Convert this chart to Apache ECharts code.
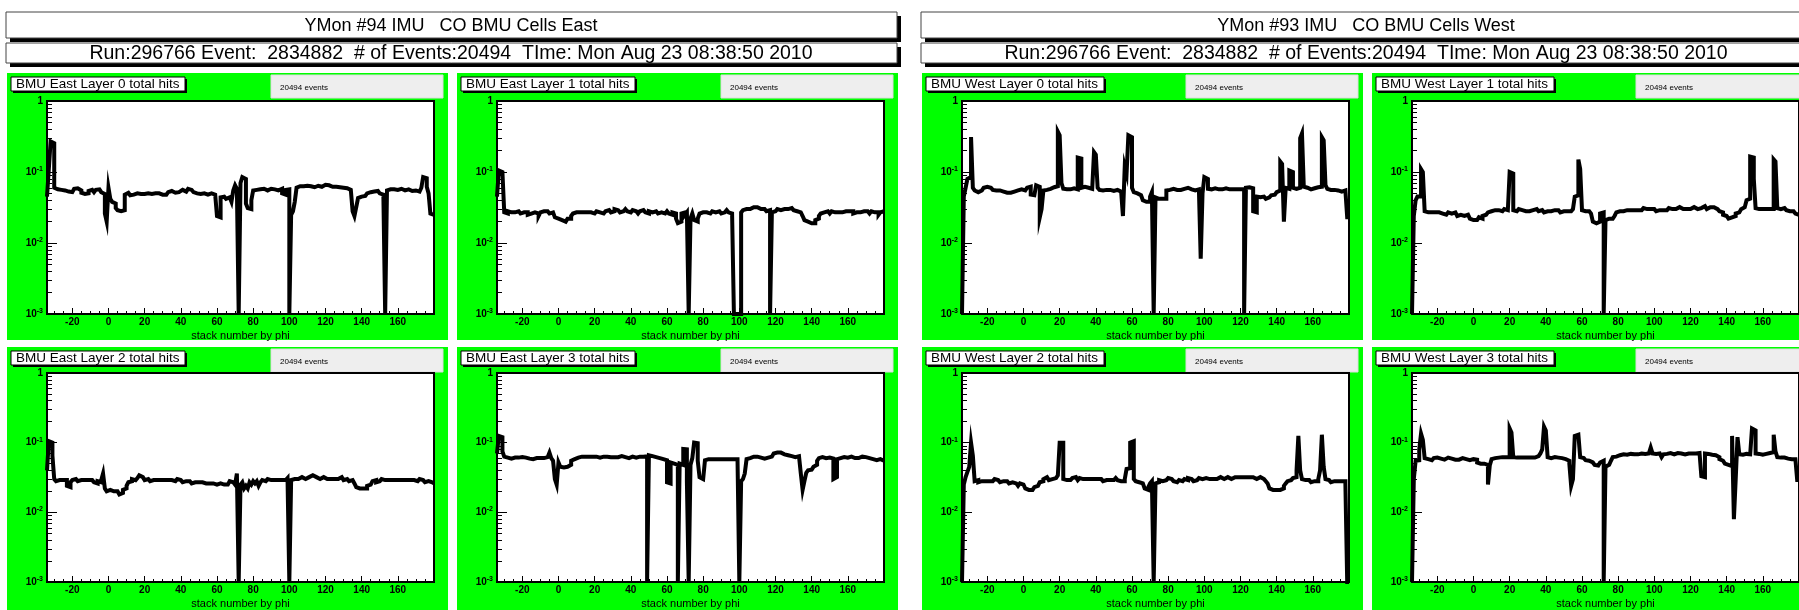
<!DOCTYPE html>
<html>
<head>
<meta charset="utf-8">
<script src="https://cdn.jsdelivr.net/npm/echarts@6/dist/echarts.min.js"></script>
<style>
  html, body { margin: 0; padding: 0; background: #ffffff; }
  #c { width: 1799px; height: 610px; }
</style>
</head>
<body>
<div id="c"></div>
<script>
// Per-stack hit fractions, stored in units of 1e-3 (per mille of events).
// One bin per stack, bins are 1 wide and the first bin starts at BIN_START.
const BIN_START = -34;

const eastL0 = [
  45,110,270,255,60,57,55,56,54,55,
  56,53,51,52,55,58,59,56,55,51,
  49,48,50,54,56,54,52,56,57,54,
  52,49,26,20,60,42,38,36,31,29,
  28,27,29,48,51,49,47,48,49,50,
  48,49,50,49,48,50,51,49,48,50,
  51,50,49,48,47,48,50,52,54,53,
  51,50,52,55,56,54,53,55,58,56,
  54,52,50,51,49,48,50,47,48,49,
  50,47,48,46,24,23,44,45,43,42,
  44,46,38,55,65,58,0,70,85,80,
  36,31,30,40,55,56,58,57,56,58,
  57,55,56,58,59,57,56,55,57,58,
  50,48,56,57,0,25,28,38,60,63,
  64,63,62,64,65,63,62,61,63,64,
  63,62,64,66,67,65,64,62,61,62,
  60,61,59,60,58,59,57,56,55,28,
  24,32,43,45,44,46,48,50,52,51,
  53,52,54,53,50,48,45,0,55,57,
  56,57,55,56,57,58,56,55,56,57,
  55,54,56,55,54,53,52,60,85,82,
  62,50,26,25
];

const eastL1 = [
  45,105,100,95,27,26,28,27,28,27,
  26,28,27,26,27,28,27,25,26,27,
  27,28,26,24,27,28,27,28,27,26,
  27,28,23,22,21,21,20,20,21,22,
  22,24,26,27,28,27,28,27,26,27,
  28,27,27,26,27,28,27,27,26,27,
  28,29,28,27,28,30,29,28,27,28,
  29,30,28,27,28,29,28,27,26,28,
  29,28,27,26,28,27,26,28,27,26,
  27,28,26,27,28,26,25,27,26,22,
  19,20,26,27,25,27,0,22,26,21,
  20,22,26,27,26,27,28,26,27,28,
  27,26,28,27,26,27,28,29,27,26,
  27,0,0,0,0,27,29,30,31,30,
  31,32,33,32,31,30,31,30,29,28,
  29,0,27,28,29,30,29,28,30,31,
  30,29,31,30,29,28,29,27,26,24,
  21,20,19,19,18,19,21,22,24,26,
  27,26,28,27,26,28,27,26,27,28,
  27,26,28,27,28,29,28,26,27,28,
  27,26,28,27,28,27,26,28,27,26,
  27,25,27,28
];

const eastL2 = [
  40,105,100,65,30,28,29,30,29,28,
  29,24,23,27,29,30,29,28,29,30,
  29,30,29,28,29,28,27,26,28,27,
  29,36,22,20,21,22,20,19,20,19,
  18,19,21,22,24,27,28,30,29,30,
  31,34,32,30,29,30,29,28,29,30,
  29,28,29,30,29,28,29,30,29,29,
  28,29,30,29,28,27,28,29,28,27,
  26,27,28,27,26,27,28,26,25,26,
  25,26,27,25,24,26,27,25,24,25,
  26,28,27,26,25,36,0,25,27,22,
  24,22,27,25,28,26,28,24,27,29,
  28,29,30,29,28,29,30,29,28,29,
  30,29,30,31,0,29,30,31,30,31,
  32,31,30,31,32,33,34,33,32,31,
  30,31,32,31,30,29,30,31,30,29,
  30,31,32,30,29,30,29,28,29,30,
  26,23,22,21,22,21,22,24,25,26,
  28,29,27,28,29,30,29,28,29,28,
  29,28,29,30,29,28,29,30,29,28,
  29,28,29,30,28,29,30,29,28,27,
  28,29,27,26
];

const eastL3 = [
  70,125,120,75,63,61,60,59,60,61,
  62,61,60,62,63,61,60,59,57,58,
  59,60,61,60,59,60,61,62,60,72,
  60,55,30,25,52,45,44,44,45,46,
  48,55,58,60,61,62,63,64,63,62,
  63,64,63,62,63,62,61,62,63,62,
  63,64,62,63,62,61,62,63,64,63,
  62,61,60,62,63,62,61,62,63,62,
  63,62,64,0,66,64,63,62,61,60,
  59,58,57,56,27,26,52,50,49,48,
  0,50,48,81,80,28,0,48,60,100,
  98,55,32,30,31,56,58,57,58,59,
  58,57,58,59,58,57,58,59,58,57,
  58,59,58,57,0,28,30,36,58,60,
  62,63,64,63,62,61,60,59,60,61,
  62,63,66,70,72,74,72,70,68,67,
  66,65,64,63,62,63,64,62,36,21,
  28,37,40,41,42,45,48,55,60,62,
  61,60,62,61,60,59,30,32,58,60,
  61,62,60,61,62,63,61,60,59,60,
  61,63,64,62,61,60,59,58,57,56,
  57,58,56,55
];

const westL0 = [
  0,45,60,80,85,310,60,55,52,53,
  55,57,60,62,61,60,58,56,55,54,
  55,54,53,52,51,50,51,52,53,54,
  55,56,57,58,55,57,60,62,48,47,
  50,65,62,23,30,55,56,57,58,60,
  61,62,63,370,330,70,58,57,56,57,
  58,59,56,57,160,155,60,62,61,60,
  59,58,57,190,175,60,56,55,57,56,
  55,56,55,54,55,56,54,53,50,24,
  120,95,330,310,60,52,50,48,47,46,
  40,38,37,38,45,52,0,44,42,41,
  42,43,42,55,56,57,58,57,56,55,
  56,57,58,59,60,58,57,56,55,56,
  57,56,6,50,85,80,58,57,58,59,
  58,57,56,57,58,59,58,57,56,57,
  58,57,56,57,58,57,0,60,61,60,
  59,28,27,45,44,46,45,43,42,44,
  45,47,48,50,52,55,140,130,20,60,
  58,105,100,60,58,57,60,300,350,62,
  60,58,57,58,59,60,61,60,62,310,
  280,65,58,56,55,56,57,55,54,53,
  54,55,56,23
];

const westL1 = [
  0,24,40,45,45,110,100,28,27,26,
  27,28,27,26,27,28,26,27,25,26,
  27,26,25,27,26,24,25,26,24,23,
  25,24,22,21,22,21,22,23,22,24,
  25,26,27,28,27,29,30,29,30,28,
  29,30,29,28,100,95,29,28,29,30,
  29,30,28,29,28,27,29,28,30,29,
  28,29,28,27,28,29,28,27,29,28,
  29,28,27,28,29,28,27,28,29,30,
  45,47,150,110,29,28,27,28,27,26,
  20,19,19,20,26,27,0,21,22,21,
  22,21,24,27,28,29,28,27,29,28,
  29,28,29,30,29,28,29,30,31,30,
  29,30,31,30,29,28,29,30,29,28,
  29,30,31,30,29,30,31,32,31,30,
  31,30,29,30,31,32,31,30,32,31,
  32,33,31,30,32,33,32,31,30,29,
  28,27,25,24,23,22,23,22,24,26,
  27,28,30,32,32,40,42,165,160,80,
  31,30,31,30,29,30,31,30,29,30,
  150,140,31,30,29,31,30,29,28,29,
  28,27,26,25
];

const westL2 = [
  0,25,32,38,45,100,65,28,29,27,
  28,27,28,29,28,27,28,29,30,29,
  28,27,28,29,28,27,26,27,28,26,
  25,24,26,25,24,22,21,20,21,22,
  23,24,25,27,28,30,32,31,29,30,
  32,31,33,34,100,100,30,29,28,29,
  30,31,32,30,29,31,30,29,30,31,
  30,29,30,31,30,29,30,29,28,29,
  30,29,28,29,30,31,29,28,29,28,
  30,42,43,100,105,30,28,27,28,26,
  25,22,21,23,26,28,0,26,27,29,
  28,27,29,30,31,30,29,28,27,28,
  29,28,29,30,29,31,30,29,28,29,
  30,31,30,29,31,32,30,29,30,31,
  30,31,32,31,30,31,32,31,30,31,
  32,33,32,31,32,33,32,31,32,33,
  32,31,30,31,32,31,30,29,28,26,
  22,21,20,21,22,21,20,22,24,26,
  28,29,30,31,32,40,125,40,30,29,
  28,29,28,27,28,29,28,30,40,130,
  45,30,29,28,27,28,29,28,27,28,
  27,28,26,0
];

const westL3 = [
  0,30,55,56,80,135,110,60,58,57,
  56,58,60,61,60,59,58,57,60,61,
  60,59,58,57,56,57,58,60,59,58,
  57,56,55,58,60,57,52,50,49,50,
  52,48,25,47,58,60,62,61,60,62,
  63,62,61,62,160,140,62,61,60,61,
  62,61,60,61,62,61,60,61,62,64,
  66,70,80,170,150,62,60,61,62,60,
  61,62,60,59,58,57,55,50,24,30,
  125,130,128,62,60,58,56,55,54,52,
  50,48,47,50,52,55,0,45,48,50,
  55,62,63,65,66,67,68,66,67,68,
  69,70,68,67,68,69,70,71,69,68,
  70,72,85,70,69,68,70,71,62,68,
  69,70,71,69,68,70,71,72,70,69,
  68,69,70,71,70,69,70,72,71,70,
  33,32,70,69,68,67,68,66,64,62,
  58,55,52,50,48,47,46,125,8,30,
  120,68,67,68,69,70,68,67,160,150,
  70,69,68,67,68,69,70,71,72,73,
  130,75,62,61,60,61,60,59,60,58,
  59,58,57,29
];

// Axis ranges and tick labels
const X_MIN = -34, X_MAX = 180;
const Y_MIN = 1e-3, Y_MAX = 1;
const xTickLabels = [-20, 0, 20, 40, 60, 80, 100, 120, 140, 160];
const yDecadeExponents = [-3, -2, -1, 0];

// Texts
const canvases = [
  { title: 'YMon #94 IMU   CO BMU Cells East',
    panels: [['BMU East Layer 0 total hits', eastL0], ['BMU East Layer 1 total hits', eastL1],
             ['BMU East Layer 2 total hits', eastL2], ['BMU East Layer 3 total hits', eastL3]] },
  { title: 'YMon #93 IMU   CO BMU Cells West',
    panels: [['BMU West Layer 0 total hits', westL0], ['BMU West Layer 1 total hits', westL1],
             ['BMU West Layer 2 total hits', westL2], ['BMU West Layer 3 total hits', westL3]] }
];
const runInfo = 'Run:296766 Event:  2834882  # of Events:20494  TIme: Mon Aug 23 08:38:50 2010';
const statsText = '20494 events';
const xTitle = 'stack number by phi';

// ---------------------------------------------------------------------------
const FONT = '"Liberation Sans", Arial, Helvetica, sans-serif';
const GREEN = '#00ff00';

// tick positions (axis decoration)
const xMinorTicks = [];
for (let v = -30; v <= 175; v += 5) if (v % 20 !== 0) xMinorTicks.push(v);
// nudged slightly inside the axis extent so end ticks are kept
const yMajorTicks = yDecadeExponents.map(e => Math.pow(10, e) * (e === 0 ? 0.99999 : 1.00001));
const yMinorTicks = [];
yDecadeExponents.slice(0, 3).forEach(e => {
  for (let m = 2; m <= 9; m++) yMinorTicks.push(m * Math.pow(10, e));
});

function yLabel(v) {
  const e = Math.round(Math.log10(v));
  return e === 0 ? '{m|1}' : '{m|10}{e|' + e + '}';
}

// histogram outline: each bin gives a flat segment from its left to its right edge;
// empty bins sit on the axis floor
function histPoints(values) {
  const pts = [];
  values.forEach((v, i) => {
    const y = Math.max(v * 1e-3, Y_MIN);
    pts.push([BIN_START + i, y], [BIN_START + i + 1, y]);
  });
  return pts;
}

const grids = [], xAxes = [], yAxes = [], series = [], graphics = [];

canvases.forEach((cv, ci) => {
  const x0 = ci * 915;
  // canvas title and run information boxes
  [[12, 26, cv.title, 18], [43, 20, runInfo, 19.5]].forEach(([ty, th, txt, fs]) => {
    graphics.push({ type: 'rect', z: 1, shape: { x: x0 + 10, y: ty + 4, width: 891, height: th }, style: { fill: '#000' } });
    graphics.push({ type: 'rect', z: 1, shape: { x: x0 + 6, y: ty, width: 891, height: th }, style: { fill: '#fff', stroke: '#444', lineWidth: 1 } });
    graphics.push({ type: 'text', z: 2, x: x0 + 451, y: ty + th / 2 + 1,
      style: { text: txt, fill: '#000', fontSize: fs, fontFamily: FONT, align: 'center', verticalAlign: 'middle', textAlign: 'center', textVerticalAlign: 'middle' } });
  });

  cv.panels.forEach(([name, values], p) => {
    const col = p % 2, row = Math.floor(p / 2);
    const padX = x0 + 7 + col * 450;
    const padY = row ? 347 : 73;
    const g = grids.length;

    graphics.push({ type: 'rect', z: 0, shape: { x: padX, y: padY, width: 441, height: 267 }, style: { fill: GREEN } });
    // histogram title box
    const bw = ci === 0 ? 174 : 178;
    graphics.push({ type: 'rect', z: 1, shape: { x: padX + 6, y: padY + 6, width: bw, height: 14 }, style: { fill: '#000' } });
    graphics.push({ type: 'rect', z: 1, shape: { x: padX + 4, y: padY + 4, width: bw, height: 14 }, style: { fill: '#fff', stroke: '#000', lineWidth: 1 } });
    graphics.push({ type: 'text', z: 2, x: padX + 9, y: padY + 11.5,
      style: { text: name, fill: '#000', fontSize: 13.5, fontFamily: FONT, align: 'left', verticalAlign: 'middle', textAlign: 'left', textVerticalAlign: 'middle' } });
    // statistics box
    graphics.push({ type: 'rect', z: 1, shape: { x: padX + 264, y: padY + 2, width: 172, height: 23 }, style: { fill: '#eeeeee', stroke: '#dddddd', lineWidth: 1 } });
    graphics.push({ type: 'text', z: 2, x: padX + 273, y: padY + 15,
      style: { text: statsText, fill: '#000', fontSize: 8, fontFamily: FONT, align: 'left', verticalAlign: 'middle', textAlign: 'left', textVerticalAlign: 'middle' } });

    grids.push({
      left: padX + 40, top: row ? 373 : 101, width: 387, height: row ? 215 : 213, z: 3,
      show: true, backgroundColor: '#fff', borderColor: '#000', borderWidth: 2
    });

    const tickStyle = { color: '#000', width: 1 };
    xAxes.push({
      gridIndex: g, type: 'value', min: X_MIN, max: X_MAX, position: 'bottom', z: 4,
      axisLine: { show: false, onZero: false }, splitLine: { show: false },
      axisTick: { inside: true, length: 6, customValues: xTickLabels, lineStyle: tickStyle },
      axisLabel: { customValues: xTickLabels, color: '#000', fontSize: 10, fontWeight: 'bold', fontFamily: FONT, margin: 3 },
      name: xTitle, nameLocation: 'middle', nameGap: 16,
      nameTextStyle: { color: '#000', fontSize: 11, fontFamily: FONT }
    });
    xAxes.push({
      gridIndex: g, type: 'value', min: X_MIN, max: X_MAX, position: 'bottom', z: 4,
      axisLine: { show: false, onZero: false }, splitLine: { show: false }, axisLabel: { show: false },
      axisTick: { inside: true, length: 3, customValues: xMinorTicks, lineStyle: tickStyle }
    });
    yAxes.push({
      gridIndex: g, type: 'log', logBase: 10, min: Y_MIN, max: Y_MAX, position: 'left', z: 4,
      axisLine: { show: false, onZero: false }, splitLine: { show: false },
      axisTick: { inside: true, length: 10, customValues: yMajorTicks, lineStyle: tickStyle },
      axisLabel: {
        customValues: yMajorTicks, formatter: yLabel, margin: 4, color: '#000',
        rich: {
          m: { fontSize: 10, fontWeight: 'bold', fontFamily: FONT, color: '#000' },
          e: { fontSize: 7, fontWeight: 'bold', fontFamily: FONT, color: '#000', padding: [0, 0, 6, 0] }
        }
      }
    });
    yAxes.push({
      gridIndex: g, type: 'log', logBase: 10, min: Y_MIN, max: Y_MAX, position: 'left', z: 4,
      axisLine: { show: false, onZero: false }, splitLine: { show: false }, axisLabel: { show: false },
      axisTick: { inside: true, length: 5, customValues: yMinorTicks, lineStyle: tickStyle }
    });

    series.push({
      type: 'line', xAxisIndex: 2 * g, yAxisIndex: 2 * g,
      data: histPoints(values), symbol: 'none', clip: true,
      lineStyle: { color: '#000', width: 4, join: 'miter' }, z: 5
    });
  });
});

const chart = echarts.init(document.getElementById('c'), null, { renderer: 'canvas' });
chart.setOption({
  animation: false,
  backgroundColor: '#ffffff',
  graphic: { elements: graphics },
  grid: grids,
  xAxis: xAxes,
  yAxis: yAxes,
  series: series
});
</script>
</body>
</html>
